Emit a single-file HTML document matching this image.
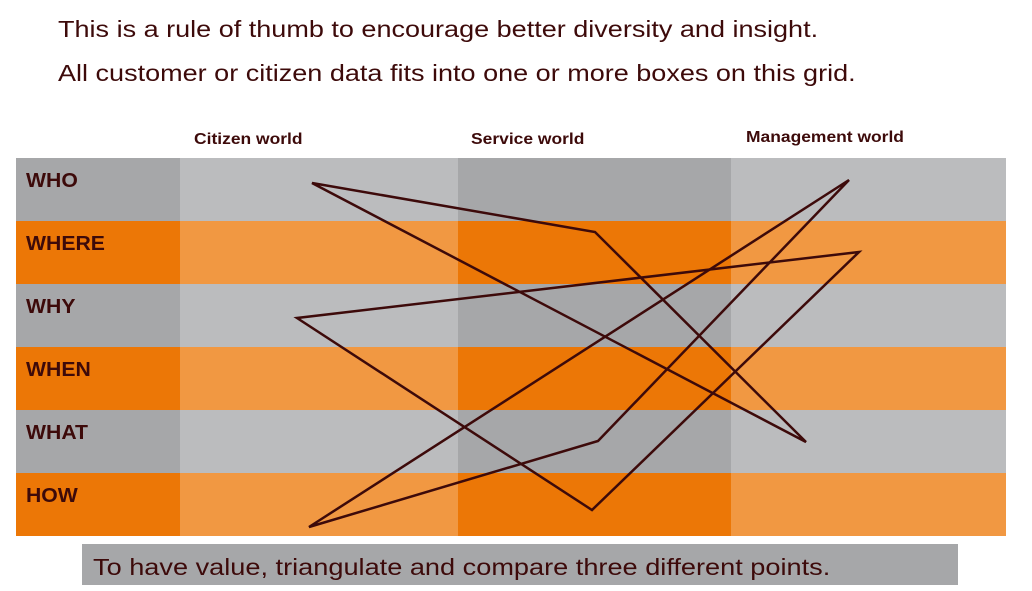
<!DOCTYPE html>
<html><head><style>
body{margin:0;width:1032px;height:591px;background:#fff;position:relative;font-family:"Liberation Sans",sans-serif;color:#3d0a0a;overflow:hidden}
.t{position:absolute;left:58px;font-size:23px;white-space:nowrap;transform:scaleX(1.175);transform-origin:0 0}
.h{position:absolute;font-size:16px;font-weight:bold;white-space:nowrap;transform:scaleX(1.09);transform-origin:0 0}
.r{position:absolute;left:16px;width:990px;height:63px}
.c{position:absolute;top:0;height:63px}
.l{position:absolute;left:10px;top:12px;font-size:20px;font-weight:bold;transform:scaleX(1.06);transform-origin:0 0}
</style></head><body>
<div class="t" style="top:16px">This is a rule of thumb to encourage better diversity and insight.</div>
<div class="t" style="top:60px">All customer or citizen data fits into one or more boxes on this grid.</div>
<div class="h" style="left:194px;top:131px">Citizen world</div>
<div class="h" style="left:471px;top:131px">Service world</div>
<div class="h" style="left:746px;top:129px">Management world</div>

<div class="r" style="top:158px"><div class="c" style="left:0;width:164px;background:#a6a7a9"></div><div class="c" style="left:164px;width:278px;background:#bbbcbe"></div><div class="c" style="left:442px;width:273px;background:#a6a7a9"></div><div class="c" style="left:715px;width:275px;background:#bbbcbe"></div><div class="l">WHO</div></div>
<div class="r" style="top:221px"><div class="c" style="left:0;width:164px;background:#ec7706"></div><div class="c" style="left:164px;width:278px;background:#f19842"></div><div class="c" style="left:442px;width:273px;background:#ec7706"></div><div class="c" style="left:715px;width:275px;background:#f19842"></div><div class="l">WHERE</div></div>
<div class="r" style="top:284px"><div class="c" style="left:0;width:164px;background:#a6a7a9"></div><div class="c" style="left:164px;width:278px;background:#bbbcbe"></div><div class="c" style="left:442px;width:273px;background:#a6a7a9"></div><div class="c" style="left:715px;width:275px;background:#bbbcbe"></div><div class="l">WHY</div></div>
<div class="r" style="top:347px"><div class="c" style="left:0;width:164px;background:#ec7706"></div><div class="c" style="left:164px;width:278px;background:#f19842"></div><div class="c" style="left:442px;width:273px;background:#ec7706"></div><div class="c" style="left:715px;width:275px;background:#f19842"></div><div class="l">WHEN</div></div>
<div class="r" style="top:410px"><div class="c" style="left:0;width:164px;background:#a6a7a9"></div><div class="c" style="left:164px;width:278px;background:#bbbcbe"></div><div class="c" style="left:442px;width:273px;background:#a6a7a9"></div><div class="c" style="left:715px;width:275px;background:#bbbcbe"></div><div class="l">WHAT</div></div>
<div class="r" style="top:473px"><div class="c" style="left:0;width:164px;background:#ec7706"></div><div class="c" style="left:164px;width:278px;background:#f19842"></div><div class="c" style="left:442px;width:273px;background:#ec7706"></div><div class="c" style="left:715px;width:275px;background:#f19842"></div><div class="l">HOW</div></div>

<svg style="position:absolute;left:0;top:0" width="1032" height="591">
<g fill="none" stroke="#3d0a0a" stroke-width="2.5" stroke-linejoin="miter">
<polygon points="312,183 595,232 806,442"/>
<polygon points="859,252 297,318 592,510"/>
<polygon points="849,180 309,527 598,441"/>
</g></svg>
<div style="position:absolute;left:82px;top:544px;width:876px;height:41px;background:#a6a7a9"></div>
<div style="position:absolute;left:93px;top:554px;font-size:23px;white-space:nowrap;transform:scaleX(1.18);transform-origin:0 0">To have value, triangulate and compare three different points.</div>
</body></html>
